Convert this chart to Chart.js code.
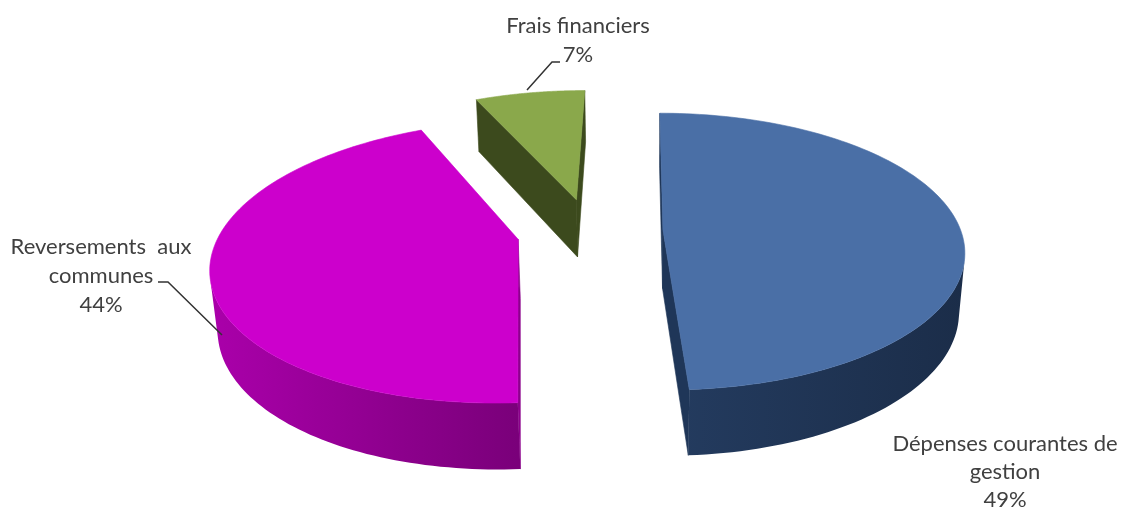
<!DOCTYPE html>
<html>
<head>
<meta charset="utf-8">
<script src="https://cdn.jsdelivr.net/npm/chart.js@4.4.0/dist/chart.umd.min.js"></script>
<style>
body { margin: 0; background: #ffffff; }
#wrap { width: 1121px; height: 511px; position: relative; }
</style>
</head>
<body>
<div id="wrap"><canvas id="pie_chart"></canvas></div>
<script>
var labels = ["Dépenses courantes de gestion", "Reversements aux communes", "Frais financiers"];
var values = [49, 44, 7];
var labelLines = [["Dépenses courantes de", "gestion"], ["Reversements  aux", "communes"], ["Frais financiers"]];

var topColors = ["#4a6fa6", "#cc00cc", "#8aa84b"];
var wallColors = [["#243c60", "#1b2d49"], ["#aa00aa", "#7a007a"], ["#3c4a1d", "#3c4a1d"]];
var cutColors = ["#1f3658", "#8c008c", "#3c4a1d"];

// 3d view settings
var tilt = 27 * Math.PI / 180;
var camDist = 1700;
var camX = 50;
var depth = 67;

// label anchor (center x, first baseline) and leader lines
var labelPos = [[1005, 451], [101, 254], [578, 33]];
var lineGaps = [28, 29, 29];
var leaders = [null, [[158, 282], [168, 282], [222, 335]], [[560, 62], [552, 62], [527, 90]]];

function project(cx, cy, x, y, z) {
    var yc = y * Math.cos(tilt) - z * Math.sin(tilt);
    var zc = y * Math.sin(tilt) + z * Math.cos(tilt);
    var s = camDist / (camDist - zc);
    return [cx + camX + (x - camX) * s, cy - yc * s];
}

function facing(px, py, pz, nx, nz) {
    var dx = camX - px;
    var dz = camDist * Math.cos(tilt) - pz;
    return dx * nx + dz * nz > 0;
}

function fillPoly(ctx, pts, fill, seam) {
    ctx.beginPath();
    ctx.moveTo(pts[0][0], pts[0][1]);
    for (var i = 1; i < pts.length; i++) {
        ctx.lineTo(pts[i][0], pts[i][1]);
    }
    ctx.closePath();
    ctx.fillStyle = fill;
    ctx.fill();
    if (seam) {
        ctx.strokeStyle = fill;
        ctx.lineWidth = 0.6;
        ctx.stroke();
    }
}

function sliceShift(arc) {
    var mid = (arc.startAngle + arc.endAngle) / 2;
    var d = arc.options.offset || 0;
    return [d * Math.cos(mid), d * Math.sin(mid)];
}

function drawSlice(ctx, arc, i) {
    var cx = arc.x, cy = arc.y, r = arc.outerRadius;
    var a1 = arc.startAngle, a2 = arc.endAngle;
    var sh = sliceShift(arc), ox = sh[0], oz = sh[1];
    var steps = 120;

    function rim(t, y) {
        return project(cx, cy, ox + r * Math.cos(t), y, oz + r * Math.sin(t));
    }
    function ang(k) {
        return a1 + (a2 - a1) * k / steps;
    }
    var apexTop = project(cx, cy, ox, 0, oz);
    var apexBot = project(cx, cy, ox, -depth, oz);

    // the two cut faces
    [[a1, 1], [a2, -1]].forEach(function (f) {
        var t = f[0];
        var nx = f[1] * Math.sin(t), nz = -f[1] * Math.cos(t);
        var px = ox + r / 2 * Math.cos(t), pz = oz + r / 2 * Math.sin(t);
        if (facing(px, -depth / 2, pz, nx, nz)) {
            fillPoly(ctx, [apexTop, rim(t, 0), rim(t, -depth), apexBot], cutColors[i], true);
        }
    });

    // outer wall, one polygon per visible run
    var minX = Infinity, maxX = -Infinity;
    for (var k = 0; k <= steps; k++) {
        var p = rim(ang(k), 0);
        minX = Math.min(minX, p[0]);
        maxX = Math.max(maxX, p[0]);
    }
    var grad = ctx.createLinearGradient(minX, 0, maxX, 0);
    grad.addColorStop(0, wallColors[i][0]);
    grad.addColorStop(1, wallColors[i][1]);

    var runs = [], cur = null;
    for (k = 0; k < steps; k++) {
        var tm = (ang(k) + ang(k + 1)) / 2;
        var vis = facing(ox + r * Math.cos(tm), -depth / 2, oz + r * Math.sin(tm), Math.cos(tm), Math.sin(tm));
        if (vis) {
            if (!cur) { cur = [k, k + 1]; runs.push(cur); }
            else cur[1] = k + 1;
        } else {
            cur = null;
        }
    }
    runs.forEach(function (run) {
        var pts = [];
        for (var j = run[0]; j <= run[1]; j++) pts.push(rim(ang(j), 0));
        for (j = run[1]; j >= run[0]; j--) pts.push(rim(ang(j), -depth));
        fillPoly(ctx, pts, grad, false);
    });

    // top face
    var top = [apexTop];
    for (k = 0; k <= steps; k++) {
        top.push(rim(ang(k), 0));
    }
    fillPoly(ctx, top, arc.options.backgroundColor, true);
}

function drawLabels(ctx) {
    ctx.save();
    ctx.font = "22px Lato";
    ctx.fillStyle = "#404040";
    ctx.textAlign = "center";
    ctx.textBaseline = "alphabetic";
    for (var i = 0; i < values.length; i++) {
        var lines = labelLines[i].concat([values[i] + "%"]);
        for (var j = 0; j < lines.length; j++) {
            ctx.fillText(lines[j], labelPos[i][0], labelPos[i][1] + j * lineGaps[i]);
        }
        if (leaders[i]) {
            ctx.beginPath();
            ctx.moveTo(leaders[i][0][0], leaders[i][0][1]);
            for (j = 1; j < leaders[i].length; j++) {
                ctx.lineTo(leaders[i][j][0], leaders[i][j][1]);
            }
            ctx.strokeStyle = "#333333";
            ctx.lineWidth = 1.5;
            ctx.stroke();
        }
    }
    ctx.restore();
}

var pie3d = {
    id: 'pie3d',
    beforeDatasetsDraw: function (chart) {
        var ctx = chart.ctx;
        var arcs = chart.getDatasetMeta(0).data;
        var order = arcs.map(function (a, i) { return i; });
        order.sort(function (a, b) { return sliceShift(arcs[a])[1] - sliceShift(arcs[b])[1]; });
        ctx.save();
        order.forEach(function (i) { drawSlice(ctx, arcs[i], i); });
        ctx.restore();
        return false;
    },
    afterDraw: function (chart) {
        drawLabels(chart.ctx);
    }
};

var canvas = document.getElementById('pie_chart').getContext('2d');

var chart = new Chart(canvas, {
    type: 'pie',
    data: {
        labels: labels,
        datasets: [{
            data: values,
            backgroundColor: topColors,
            borderWidth: 0,
            offset: 73,
            radius: 298
        }]
    },
    options: {
        responsive: true,
        maintainAspectRatio: false,
        animation: false,
        events: [],
        layout: {
            padding: { left: 59, bottom: 49 }
        },
        plugins: {
            legend: { display: false },
            tooltip: { enabled: false }
        }
    },
    plugins: [pie3d]
});
</script>
</body>
</html>
